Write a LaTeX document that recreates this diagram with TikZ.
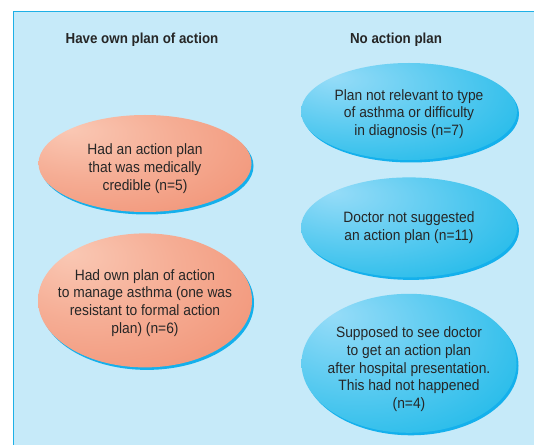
\documentclass[tikz,border=0pt]{standalone}
\usepackage{fontspec}
\setmainfont{Liberation Sans}[FakeStretch=0.92]
\usetikzlibrary{shapes.geometric,positioning,shadows}

\definecolor{panelblue}{RGB}{198,234,249}
\definecolor{panelline}{RGB}{30,176,230}
\definecolor{shadowblue}{RGB}{20,176,236}
\definecolor{inkgray}{RGB}{38,38,38}
\definecolor{salmonhi}{RGB}{250,200,180}
\definecolor{salmonmid}{RGB}{240,142,112}
\definecolor{salmonlo}{RGB}{212,108,84}
\definecolor{skyhi}{RGB}{150,220,248}
\definecolor{skymid}{RGB}{32,186,233}
\definecolor{skylo}{RGB}{6,148,200}

\pgfdeclareradialshading{salmonball}{\pgfpoint{-18bp}{18bp}}{color(0bp)=(salmonhi); color(20bp)=(salmonhi!55!salmonmid); color(48bp)=(salmonmid); color(75bp)=(salmonlo)}
\pgfdeclareradialshading{skyball}{\pgfpoint{-18bp}{18bp}}{color(0bp)=(skyhi); color(42bp)=(skymid); color(75bp)=(skylo)}

\begin{document}
\begin{tikzpicture}[x=1pt, y=1pt,
    blob/.style={ellipse, inner sep=0pt, drop shadow={shadow xshift=2pt, shadow yshift=-2.5pt, fill=shadowblue, opacity=1}},
    ownplan/.style={blob, shade, shading=salmonball},
    noplan/.style={blob, shade, shading=skyball},
    head/.style={font=\bfseries\fontsize{14.5}{17}\selectfont, text=inkgray, inner sep=0pt},
    txt/.style={align=center, font=\fontsize{15}{17.7}\selectfont, text=inkgray, inner sep=0pt}]
    \useasboundingbox (0,0) rectangle (534,444);
    \clip (0,0) rectangle (534,444);
    % background panel
    \draw[panelline, line width=1.5pt, fill=panelblue] (13.5,-20) rectangle (560,432.5);
    % column headings
    \node[head] (hown) at (142,404) {Have own plan of action};
    \node[head] (hnone) at (396,404) {No action plan};
    % left column
    \node[ownplan, minimum width=213pt, minimum height=97pt] (own1) at (145,280.5) {};
    \node[ownplan, minimum width=214pt, minimum height=134pt, below=21pt of own1] (own2) {};
    \node[txt, yshift=-5pt] (own1t) at (own1) {Had an action plan\\that was medically\\credible (n=5)};
    \node[txt, yshift=-2.5pt] (own2t) at (own2) {Had own plan of action\\to manage asthma (one was\\resistant to formal action\\plan) (n=6)};
    % right column
    \node[noplan, minimum width=216pt, minimum height=97pt] (no1) at (409,332.5) {};
    \node[noplan, minimum width=216pt, minimum height=100pt, below=17pt of no1] (no2) {};
    \node[noplan, minimum width=215pt, minimum height=139pt, below=16pt of no2] (no3) {};
    \node[txt, yshift=-2.5pt] (no1t) at (no1) {Plan not relevant to type\\of asthma or difficulty\\in diagnosis (n=7)};
    \node[txt] (no2t) at (no2) {Doctor not suggested\\an action plan (n=11)};
    \node[txt, yshift=-6pt] (no3t) at (no3) {Supposed to see doctor\\to get an action plan\\after hospital presentation.\\This had not happened\\(n=4)};
\end{tikzpicture}
\end{document}
